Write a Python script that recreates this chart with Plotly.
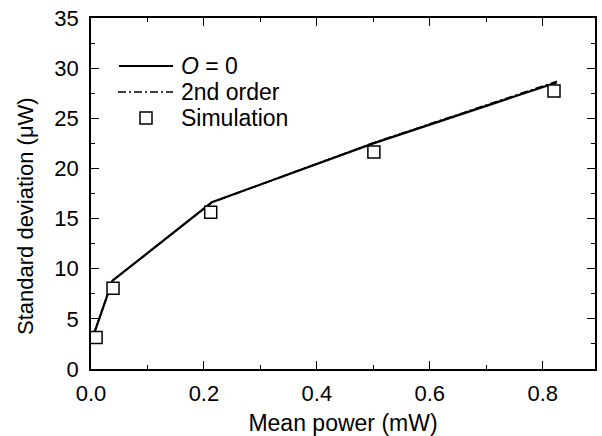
import plotly.graph_objects as go

# ---- data ----
line0_x = [0.004, 0.038, 0.214, 0.500, 0.825]
line0_y = [3.3, 8.8, 16.62, 22.5, 28.57]

order2_x = [0.004, 0.038, 0.214, 0.500, 0.825]
order2_y = [3.3, 8.8, 16.60, 22.55, 28.68]

sim_x = [0.009, 0.039, 0.212, 0.501, 0.820]
sim_y = [3.15, 8.06, 15.63, 21.65, 27.73]

legend_labels = ["<i>O</i> = 0", "2nd order", "Simulation"]

FONT = "Liberation Sans, Arial, Helvetica, sans-serif"
W, H = 602, 436
L, R, T, B = 91, 7, 18, 67
PW, PH = W - L - R, H - T - B


def px2paper(px, py):
    return (px - L) / PW, (H - B - py) / PH


fig = go.Figure()
fig.add_trace(go.Scatter(x=order2_x, y=order2_y, mode="lines",
                         line=dict(color="black", width=1.6, dash="8px,3px,2px,3px"),
                         name=legend_labels[1], showlegend=False))
fig.add_trace(go.Scatter(x=line0_x, y=line0_y, mode="lines",
                         line=dict(color="black", width=2.2),
                         name=legend_labels[0], showlegend=False))
fig.add_trace(go.Scatter(x=sim_x, y=sim_y, mode="markers",
                         marker=dict(symbol="square", size=12, color="white",
                                     line=dict(color="black", width=1.5)),
                         name=legend_labels[2], showlegend=False))

# ---- manual legend (top-left inside the plot) ----
shapes = []
annotations = []
rows_y = [66, 92, 118]
x0, y0 = px2paper(119, rows_y[0])
x1, _ = px2paper(173, rows_y[0])
shapes.append(dict(type="line", xref="paper", yref="paper", x0=x0, x1=x1, y0=y0, y1=y0,
                   line=dict(color="black", width=2.2)))
x0, y1 = px2paper(118, rows_y[1])
x1, _ = px2paper(173, rows_y[1])
shapes.append(dict(type="line", xref="paper", yref="paper", x0=x0, x1=x1, y0=y1, y1=y1,
                   line=dict(color="black", width=1.6, dash="8px,3px,2px,3px")))
sx0, sy0 = px2paper(140, rows_y[2] - 6)
sx1, sy1 = px2paper(152, rows_y[2] + 6)
shapes.append(dict(type="rect", xref="paper", yref="paper", x0=sx0, x1=sx1, y0=sy1, y1=sy0,
                   line=dict(color="black", width=1.5), fillcolor="white"))
for lab, ry in zip(legend_labels, rows_y):
    ax, ay = px2paper(179, ry)
    annotations.append(dict(text=lab, xref="paper", yref="paper", x=ax, y=ay,
                            xanchor="left", yanchor="middle", showarrow=False,
                            font=dict(family=FONT, size=23, color="black")))

# y-axis title (placed as rotated text to match the reference position)
tx, ty = px2paper(25, 216)
annotations.append(dict(text="Standard deviation (\u03bcW)", xref="paper", yref="paper",
                        x=tx, y=ty, xanchor="center", yanchor="middle", textangle=-90,
                        showarrow=False, font=dict(family=FONT, size=22, color="black")))

axis_common = dict(
    showgrid=False, zeroline=False, showline=True, linecolor="black", linewidth=1.5,
    mirror="ticks", ticks="inside", ticklen=8, tickwidth=1.3, tickcolor="black",
    tickfont=dict(family=FONT, size=22, color="black"),
)

fig.update_layout(
    width=W, height=H,
    margin=dict(l=L, r=R, t=T, b=B, autoexpand=False),
    paper_bgcolor="white", plot_bgcolor="white",
    font=dict(family=FONT, color="black"),
    xaxis=dict(range=[0, 0.8926], dtick=0.2, tick0=0, tickformat=".1f",
               minor=dict(dtick=0.1, ticks="inside", ticklen=4, tickcolor="black", tickwidth=1.3),
               title=dict(text="Mean power (mW)", font=dict(family=FONT, size=23), standoff=10),
               ticklabelstandoff=4, automargin=False, **axis_common),
    yaxis=dict(range=[0, 35], dtick=5, tick0=0,
               minor=dict(dtick=2.5, ticks="inside", ticklen=4, tickcolor="black", tickwidth=1.3),
               ticklabelstandoff=6, automargin=False, **axis_common),
    shapes=shapes, annotations=annotations, showlegend=False,
)

fig.write_html("out.html")
